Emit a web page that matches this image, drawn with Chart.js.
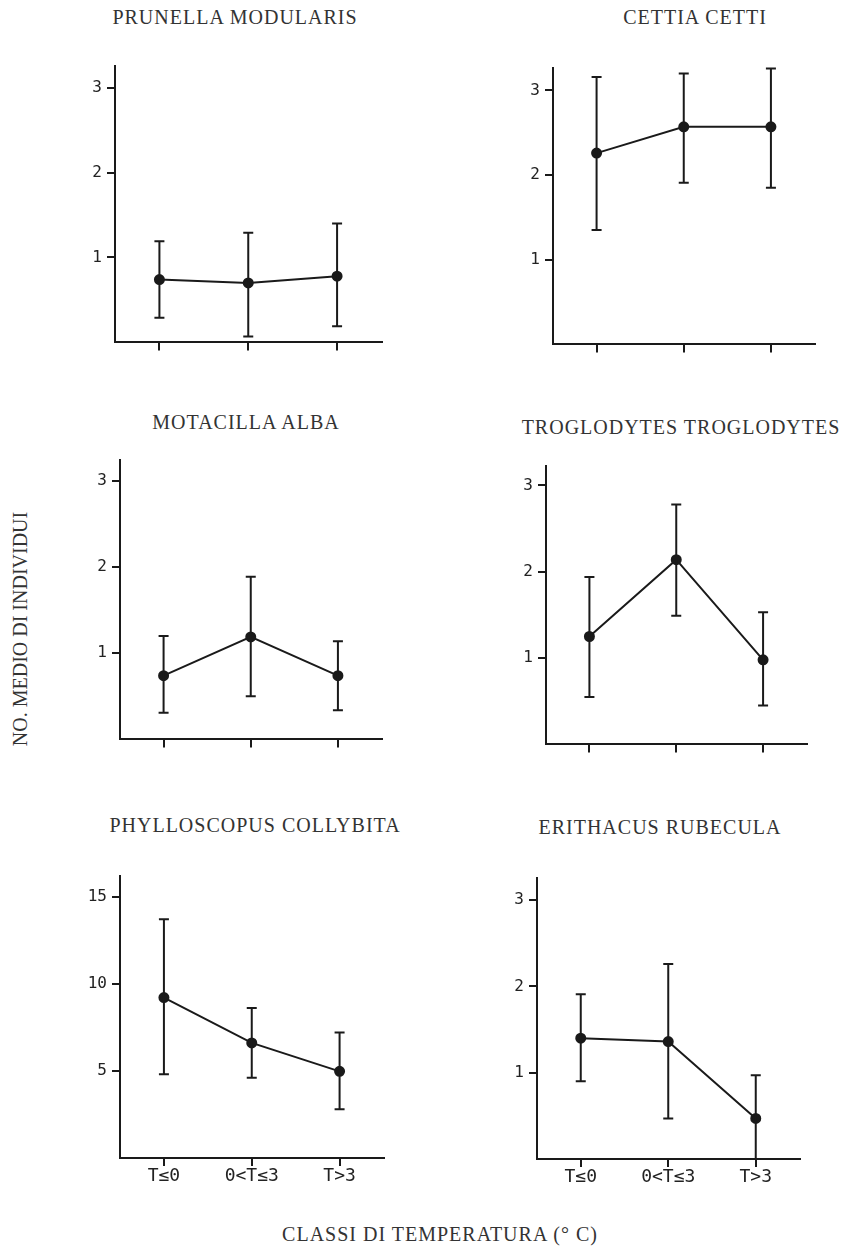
<!DOCTYPE html>
<html>
<head>
<meta charset="utf-8">
<script src="https://cdn.jsdelivr.net/npm/chart.js@4.4.1/dist/chart.umd.min.js"></script>
<style>
  body { margin: 0; background: #fff; }
  #page { position: relative; width: 852px; height: 1247px; overflow: hidden; }
  canvas { position: absolute; }
  .lbl {
    position: absolute;
    font-family: 'Liberation Serif', serif;
    font-size: 20px;
    letter-spacing: 1px;
    color: #333;
    white-space: nowrap;
    transform: translate(-50%, -50%);
  }
  .rot { transform: translate(-50%, -50%) rotate(-90deg); letter-spacing: 0; }
</style>
</head>
<body>
<div id="page">
  <div class="lbl" style="left:235px; top:17px;">PRUNELLA MODULARIS</div>
  <div class="lbl" style="left:695px; top:17px;">CETTIA CETTI</div>
  <div class="lbl" style="left:246px; top:422px;">MOTACILLA ALBA</div>
  <div class="lbl" style="left:681px; top:427px;">TROGLODYTES TROGLODYTES</div>
  <div class="lbl" style="left:255px; top:825px;">PHYLLOSCOPUS COLLYBITA</div>
  <div class="lbl" style="left:660px; top:827px;">ERITHACUS RUBECULA</div>
  <div class="lbl rot" style="left:20px; top:629px;">NO. MEDIO DI INDIVIDUI</div>
  <div class="lbl" style="left:440px; top:1234px;">CLASSI DI TEMPERATURA (° C)</div>
</div>
<script>
'use strict';

// temperature classes (°C)
const categories = ['T≤0', '0<T≤3', 'T>3'];

// mean number of individuals and error bar ends
const prunellaMean = [0.74, 0.70, 0.78];
const prunellaLow = [0.29, 0.07, 0.19];
const prunellaHigh = [1.19, 1.29, 1.40];

const cettiaMean = [2.26, 2.57, 2.57];
const cettiaLow = [1.35, 1.91, 1.85];
const cettiaHigh = [3.16, 3.20, 3.26];

const motacillaMean = [0.74, 1.19, 0.74];
const motacillaLow = [0.31, 0.50, 0.34];
const motacillaHigh = [1.20, 1.89, 1.14];

const troglodytesMean = [1.25, 2.14, 0.98];
const troglodytesLow = [0.55, 1.49, 0.45];
const troglodytesHigh = [1.94, 2.78, 1.53];

const phylloscopusMean = [9.2, 6.6, 4.97];
const phylloscopusLow = [4.8, 4.6, 2.8];
const phylloscopusHigh = [13.7, 8.6, 7.2];

const erithacusMean = [1.40, 1.36, 0.47];
const erithacusLow = [0.90, 0.47, 0];
const erithacusHigh = [1.91, 2.26, 0.97];

// tick labels
const smallTicks = [1, 2, 3];
const phylloTicks = [5, 10, 15];

// panel boxes: axis x, axis top, axis bottom, axis right end (pixels)
const panels = [
  {mean: prunellaMean, low: prunellaLow, high: prunellaHigh, ticks: smallTicks, yMax: 3.26, ax: 115, top: 63, bottom: 343, right: 382, xLabels: false},
  {mean: cettiaMean, low: cettiaLow, high: cettiaHigh, ticks: smallTicks, yMax: 3.27, ax: 553, top: 65, bottom: 345, right: 815, xLabels: false},
  {mean: motacillaMean, low: motacillaLow, high: motacillaHigh, ticks: smallTicks, yMax: 3.25, ax: 120, top: 457, bottom: 740, right: 382, xLabels: false},
  {mean: troglodytesMean, low: troglodytesLow, high: troglodytesHigh, ticks: smallTicks, yMax: 3.23, ax: 546, top: 463, bottom: 745, right: 807, xLabels: false},
  {mean: phylloscopusMean, low: phylloscopusLow, high: phylloscopusHigh, ticks: phylloTicks, yMax: 16.2, ax: 120, top: 873, bottom: 1158, right: 384, xLabels: true},
  {mean: erithacusMean, low: erithacusLow, high: erithacusHigh, ticks: smallTicks, yMax: 3.26, ax: 537, top: 875, bottom: 1159, right: 800, xLabels: true}
];

const ink = '#1a1a1a';
const yW = 60; // room left of the y axis
const padTop = 12;
const padRight = 6;

// draws the vertical error bars with caps
const errorBars = {
  id: 'errorBars',
  afterDatasetsDraw(chart, args, opts) {
    const ctx = chart.ctx;
    const x = chart.scales.x;
    const y = chart.scales.y;
    ctx.save();
    ctx.strokeStyle = ink;
    ctx.lineWidth = 2;
    for (let i = 0; i < opts.low.length; i++) {
      let px = x.getPixelForValue(i);
      let y1 = y.getPixelForValue(opts.low[i]);
      let y2 = y.getPixelForValue(opts.high[i]);
      ctx.beginPath();
      ctx.moveTo(px, y1);
      ctx.lineTo(px, y2);
      ctx.moveTo(px - 5, y1);
      ctx.lineTo(px + 5, y1);
      ctx.moveTo(px - 5, y2);
      ctx.lineTo(px + 5, y2);
      ctx.stroke();
    }
    ctx.restore();
  }
};

let page = document.getElementById('page');

for (let i = 0; i < panels.length; i++) {
  let p = panels[i];
  let xH = p.xLabels ? 40 : 14;
  let canvas = document.createElement('canvas');
  canvas.width = yW + (p.right - p.ax) + padRight;
  canvas.height = padTop + (p.bottom - p.top) + xH;
  canvas.style.left = (p.ax - yW) + 'px';
  canvas.style.top = (p.top - padTop) + 'px';
  page.appendChild(canvas);

  new Chart(canvas.getContext('2d'), {
    type: 'line',
    data: {
      labels: categories,
      datasets: [{
        data: p.mean,
        borderColor: ink,
        borderWidth: 2,
        pointRadius: 4.5,
        pointBackgroundColor: ink,
        pointBorderColor: ink,
        tension: 0,
        clip: false
      }]
    },
    plugins: [errorBars],
    options: {
      responsive: false,
      animation: false,
      layout: {padding: {top: padTop, right: padRight, left: 0, bottom: 0}},
      plugins: {
        legend: {display: false},
        tooltip: {enabled: false},
        errorBars: {low: p.low, high: p.high}
      },
      scales: {
        x: {
          type: 'category',
          offset: true,
          afterFit(scale) { scale.height = xH; },
          border: {display: true, color: ink, width: 2},
          grid: {drawOnChartArea: false, drawTicks: true, tickLength: 8, color: ink, lineWidth: 2},
          ticks: {
            color: '#222',
            padding: 0,
            maxRotation: 0,
            font: {family: 'DejaVu Sans Mono', size: 18},
            callback: function(v, idx) { return p.xLabels ? categories[idx] : ''; }
          }
        },
        y: {
          min: 0,
          max: p.yMax,
          afterFit(scale) { scale.width = yW; },
          afterBuildTicks(scale) { scale.ticks = p.ticks.map(v => ({value: v})); },
          border: {display: true, color: ink, width: 2},
          grid: {drawOnChartArea: false, drawTicks: true, tickLength: 8, color: ink, lineWidth: 2},
          ticks: {
            color: '#222',
            padding: 5,
            font: {family: 'DejaVu Sans Mono', size: 16}
          }
        }
      }
    }
  });
}
</script>
</body>
</html>
